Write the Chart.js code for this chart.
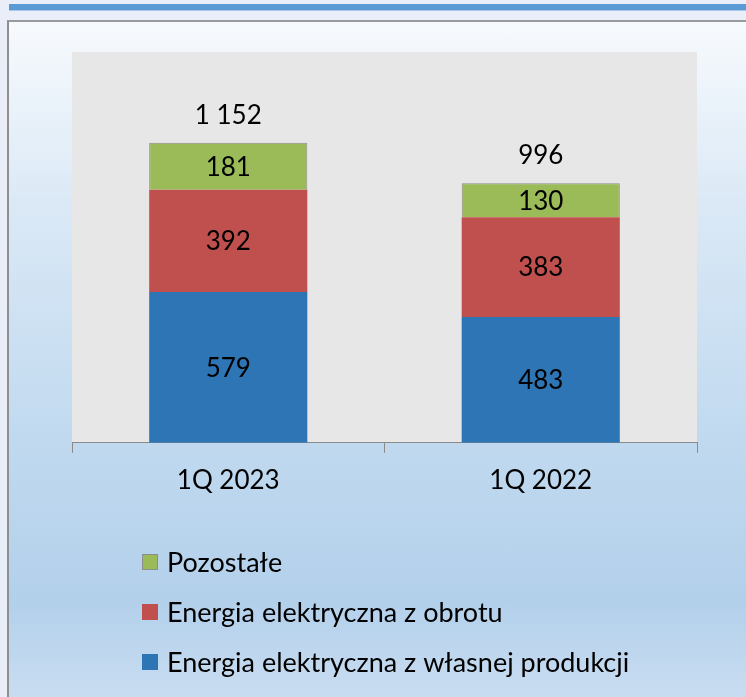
<!DOCTYPE html>
<html lang="pl">
<head>
<meta charset="UTF-8">
<title>Struktura przychodow</title>
<script src="https://cdn.jsdelivr.net/npm/chart.js@4.4.0/dist/chart.umd.min.js"></script>
<style>
    body { margin: 0; background: #eaeef8; width: 746px; height: 697px; overflow: hidden; position: relative; font-family: Lato, sans-serif; }
    #band { position: absolute; left: 9px; right: 0; top: 4px; height: 6px; background: #5b9bd5; border-bottom: 1px solid #a9c6e8; }
    #frame {
        position: absolute; left: 7px; top: 20px; width: 760px; height: 700px;
        border-left: 2px solid #8f8f8f; border-top: 2px solid #9a9a9a;
        background: linear-gradient(to bottom, #f7fafd 0px, #dbe9f6 180px, #c0d9ef 420px, #b3d0eb 580px, #c9ddf1 677px);
    }
    #wrap { position: absolute; left: 0; top: 0; width: 746px; height: 697px; }
</style>
</head>
<body>
<div id="band"></div>
<div id="frame"></div>
<div id="wrap"><canvas id="myChart"></canvas></div>

<script>
// dane z wykresu
var categories = ["1Q 2023", "1Q 2022"];
var ownProduction = [579, 483];
var traded = [392, 383];
var other = [181, 130];
var seriesNames = ["Energia elektryczna z własnej produkcji", "Energia elektryczna z obrotu", "Pozostałe"];

function fmt(v) {
    // separator tysiecy jako spacja
    return String(v).replace(/\B(?=(\d{3})+(?!\d))/g, " ");
}

// tlo obszaru wykresu
var plotBg = {
    id: 'plotBg',
    beforeDraw: function(chart) {
        var a = chart.chartArea, ctx = chart.ctx;
        ctx.save();
        ctx.fillStyle = '#e7e7e7';
        ctx.fillRect(a.left, a.top, a.right - a.left, a.bottom - a.top);
        ctx.restore();
    }
};

// etykiety wartosci i sumy
var valueLabels = {
    id: 'valueLabels',
    afterDatasetsDraw: function(chart) {
        var ctx = chart.ctx;
        ctx.save();
        ctx.font = '26px Lato';
        ctx.fillStyle = '#000';
        ctx.textAlign = 'center';
        ctx.textBaseline = 'middle';
        chart.data.datasets.forEach(function(ds, i) {
            chart.getDatasetMeta(i).data.forEach(function(bar, j) {
                var c = bar.getCenterPoint();
                ctx.fillText(fmt(ds.data[j]), c.x, c.y + 1);
            });
        });
        var last = chart.getDatasetMeta(chart.data.datasets.length - 1).data;
        ctx.textBaseline = 'alphabetic';
        last.forEach(function(bar, j) {
            var sum = 0;
            chart.data.datasets.forEach(function(ds) { sum += ds.data[j]; });
            ctx.fillText(fmt(sum), bar.x, bar.y - 19);
        });
        ctx.restore();
    }
};

// legenda pionowa pod wykresem
var vLegend = {
    id: 'vLegend',
    afterDraw: function(chart) {
        var ctx = chart.ctx;
        var ds = chart.data.datasets;
        ctx.save();
        ctx.font = '27px Lato';
        ctx.textBaseline = 'middle';
        ctx.textAlign = 'left';
        for (var k = 0; k < ds.length; k++) {
            var d = ds[ds.length - 1 - k];
            var y = 562 + k * 50;
            ctx.fillStyle = d.backgroundColor;
            ctx.fillRect(142, y - 8, 16, 16);
            if (d.borderWidth) {
                ctx.strokeStyle = d.borderColor;
                ctx.lineWidth = 1;
                ctx.strokeRect(142.5, y - 7.5, 15, 15);
            }
            ctx.fillStyle = '#000';
            ctx.fillText(d.label, 167, y + 1);
        }
        ctx.restore();
    }
};

var myChart = new Chart(document.getElementById('myChart'), {
    type: 'bar',
    data: {
        labels: categories,
        datasets: [
            { label: seriesNames[0], data: ownProduction, backgroundColor: '#2e75b6', borderWidth: 0 },
            { label: seriesNames[1], data: traded, backgroundColor: '#c0504d', borderWidth: 0 },
            { label: seriesNames[2], data: other, backgroundColor: '#9bbb59', borderColor: '#8c8c8c', borderWidth: 1 }
        ]
    },
    options: {
        responsive: true,
        maintainAspectRatio: false,
        animation: false,
        events: [],
        layout: { padding: { left: 72, right: 49, top: 52, bottom: 189 } },
        datasets: { bar: { categoryPercentage: 1, barPercentage: 0.506 } },
        plugins: { legend: { display: false }, tooltip: { enabled: false } },
        scales: {
            x: {
                stacked: true,
                grid: { drawOnChartArea: false, drawTicks: true, tickLength: 10, color: '#8a8a8a', offset: true },
                border: { color: '#8a8a8a', width: 1 },
                ticks: { color: '#000', font: { family: 'Lato', size: 26 }, padding: 12 }
            },
            y: {
                stacked: true,
                display: false,
                min: 0,
                max: 1500
            }
        }
    },
    plugins: [plotBg, valueLabels, vLegend]
});
</script>
</body>
</html>
